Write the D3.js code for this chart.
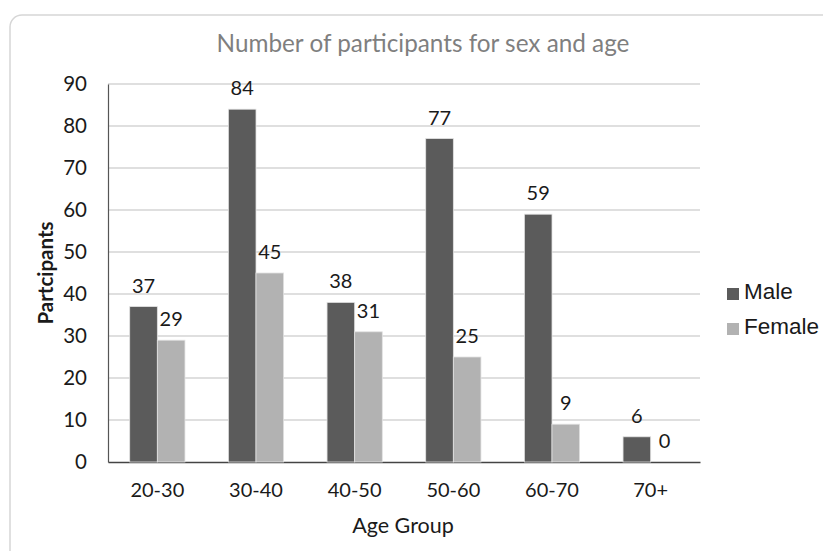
<!DOCTYPE html>
<html>
<head>
<meta charset="utf-8">
<script src="https://cdn.jsdelivr.net/npm/d3@7"></script>
<style>
  html, body { margin: 0; padding: 0; background: #fff; }
  svg { display: block; }
</style>
</head>
<body>
<svg id="chart" width="823" height="551"></svg>
<script>
// Participants by age group and sex
const ageGroups = ["20-30", "30-40", "40-50", "50-60", "60-70", "70+"];
const seriesNames = ["Male", "Female"];
const maleCounts = [37, 84, 38, 77, 59, 6];
const femaleCounts = [29, 45, 31, 25, 9, 0];
const yTicks = [0, 10, 20, 30, 40, 50, 60, 70, 80, 90];
const seriesColors = ["#5b5b5b", "#b2b2b2"];

const svg = d3.select("#chart");

// Chart frame with rounded corner, running off the right and bottom edges
svg.append("rect")
  .attr("x", 10).attr("y", 15)
  .attr("width", 850).attr("height", 580)
  .attr("rx", 12).attr("ry", 12)
  .attr("fill", "#fff")
  .attr("stroke", "#d6d6d6")
  .attr("stroke-width", 1.5);

const plot = { left: 108, right: 700, top: 84, bottom: 462 };

const x = d3.scaleBand()
  .domain(ageGroups)
  .range([plot.left, plot.right])
  .paddingInner(0).paddingOuter(0);

const y = d3.scaleLinear()
  .domain([0, 90])
  .range([plot.bottom, plot.top]);

const barW = x.bandwidth() * 0.28;
const sub = d3.scaleBand()
  .domain(seriesNames)
  .range([x.bandwidth() / 2 - barW, x.bandwidth() / 2 + barW]);

const font = "Lato, 'Open Sans', sans-serif";

// Horizontal gridlines
svg.append("g")
  .selectAll("line")
  .data(yTicks.filter(t => t > 0))
  .join("line")
  .attr("x1", plot.left).attr("x2", plot.right)
  .attr("y1", d => y(d)).attr("y2", d => y(d))
  .attr("stroke", "#d4d4d4")
  .attr("stroke-width", 1.3);

// Y axis
const yAxis = svg.append("g")
  .attr("transform", `translate(${plot.left},0)`)
  .call(d3.axisLeft(y).tickValues(yTicks).tickSize(0).tickPadding(21));
yAxis.select(".domain").attr("stroke", "#555").attr("stroke-width", 1.2);
yAxis.selectAll("text")
  .attr("font-family", font)
  .attr("font-size", 20.5)
  .attr("fill", "#1a1a1a");

// X axis
const xAxis = svg.append("g")
  .attr("transform", `translate(0,${plot.bottom})`)
  .call(d3.axisBottom(x).tickSize(0).tickPadding(21));
xAxis.select(".domain").attr("stroke", "#444").attr("stroke-width", 1.5);
xAxis.selectAll("text")
  .attr("font-family", font)
  .attr("font-size", 20)
  .attr("fill", "#1a1a1a");

// Bars
const rows = ageGroups.map((g, i) => ({
  group: g,
  values: [
    { name: "Male", value: maleCounts[i], color: seriesColors[0] },
    { name: "Female", value: femaleCounts[i], color: seriesColors[1] }
  ]
}));

const groups = svg.append("g")
  .selectAll("g")
  .data(rows)
  .join("g")
  .attr("transform", d => `translate(${x(d.group)},0)`);

groups.selectAll("rect")
  .data(d => d.values.filter(v => v.value > 0))
  .join("rect")
  .attr("x", d => sub(d.name))
  .attr("width", sub.bandwidth())
  .attr("y", d => y(d.value))
  .attr("height", d => y(0) - y(d.value))
  .attr("fill", d => d.color)
  .attr("stroke", "#e2e2e2")
  .attr("stroke-width", 0.8);

// Value labels
groups.selectAll("text.val")
  .data(d => d.values)
  .join("text")
  .attr("class", "val")
  .attr("x", d => sub(d.name) + sub.bandwidth() / 2)
  .attr("y", d => y(d.value) - 14)
  .attr("text-anchor", "middle")
  .attr("font-family", font)
  .attr("font-size", 20)
  .attr("fill", "#1a1a1a")
  .text(d => d.value);

// Title
svg.append("text")
  .attr("x", 423).attr("y", 52)
  .attr("text-anchor", "middle")
  .attr("font-family", font)
  .attr("font-size", 24.3)
  .attr("fill", "#7f7f7f")
  .text("Number of participants for sex and age");

// Axis titles
svg.append("text")
  .attr("transform", `translate(53,${(plot.top + plot.bottom) / 2}) rotate(-90)`)
  .attr("text-anchor", "middle")
  .attr("font-family", font)
  .attr("font-size", 20.5)
  .attr("font-weight", 700)
  .attr("fill", "#1a1a1a")
  .text("Partcipants");

svg.append("text")
  .attr("x", (plot.left + plot.right) / 2 - 1).attr("y", 533)
  .attr("text-anchor", "middle")
  .attr("font-family", font)
  .attr("font-size", 21.5)
  .attr("fill", "#1a1a1a")
  .text("Age Group");

// Legend
const legend = svg.append("g")
  .selectAll("g")
  .data(seriesNames)
  .join("g")
  .attr("transform", (d, i) => `translate(727,${288 + i * 35})`);

legend.append("rect")
  .attr("width", 12).attr("height", 12)
  .attr("fill", (d, i) => seriesColors[i]);

legend.append("text")
  .attr("x", 17).attr("y", 11)
  .attr("font-family", "'Liberation Sans', Arial, sans-serif")
  .attr("font-size", 22.5)
  .attr("fill", "#1a1a1a")
  .text(d => d);
</script>
</body>
</html>
